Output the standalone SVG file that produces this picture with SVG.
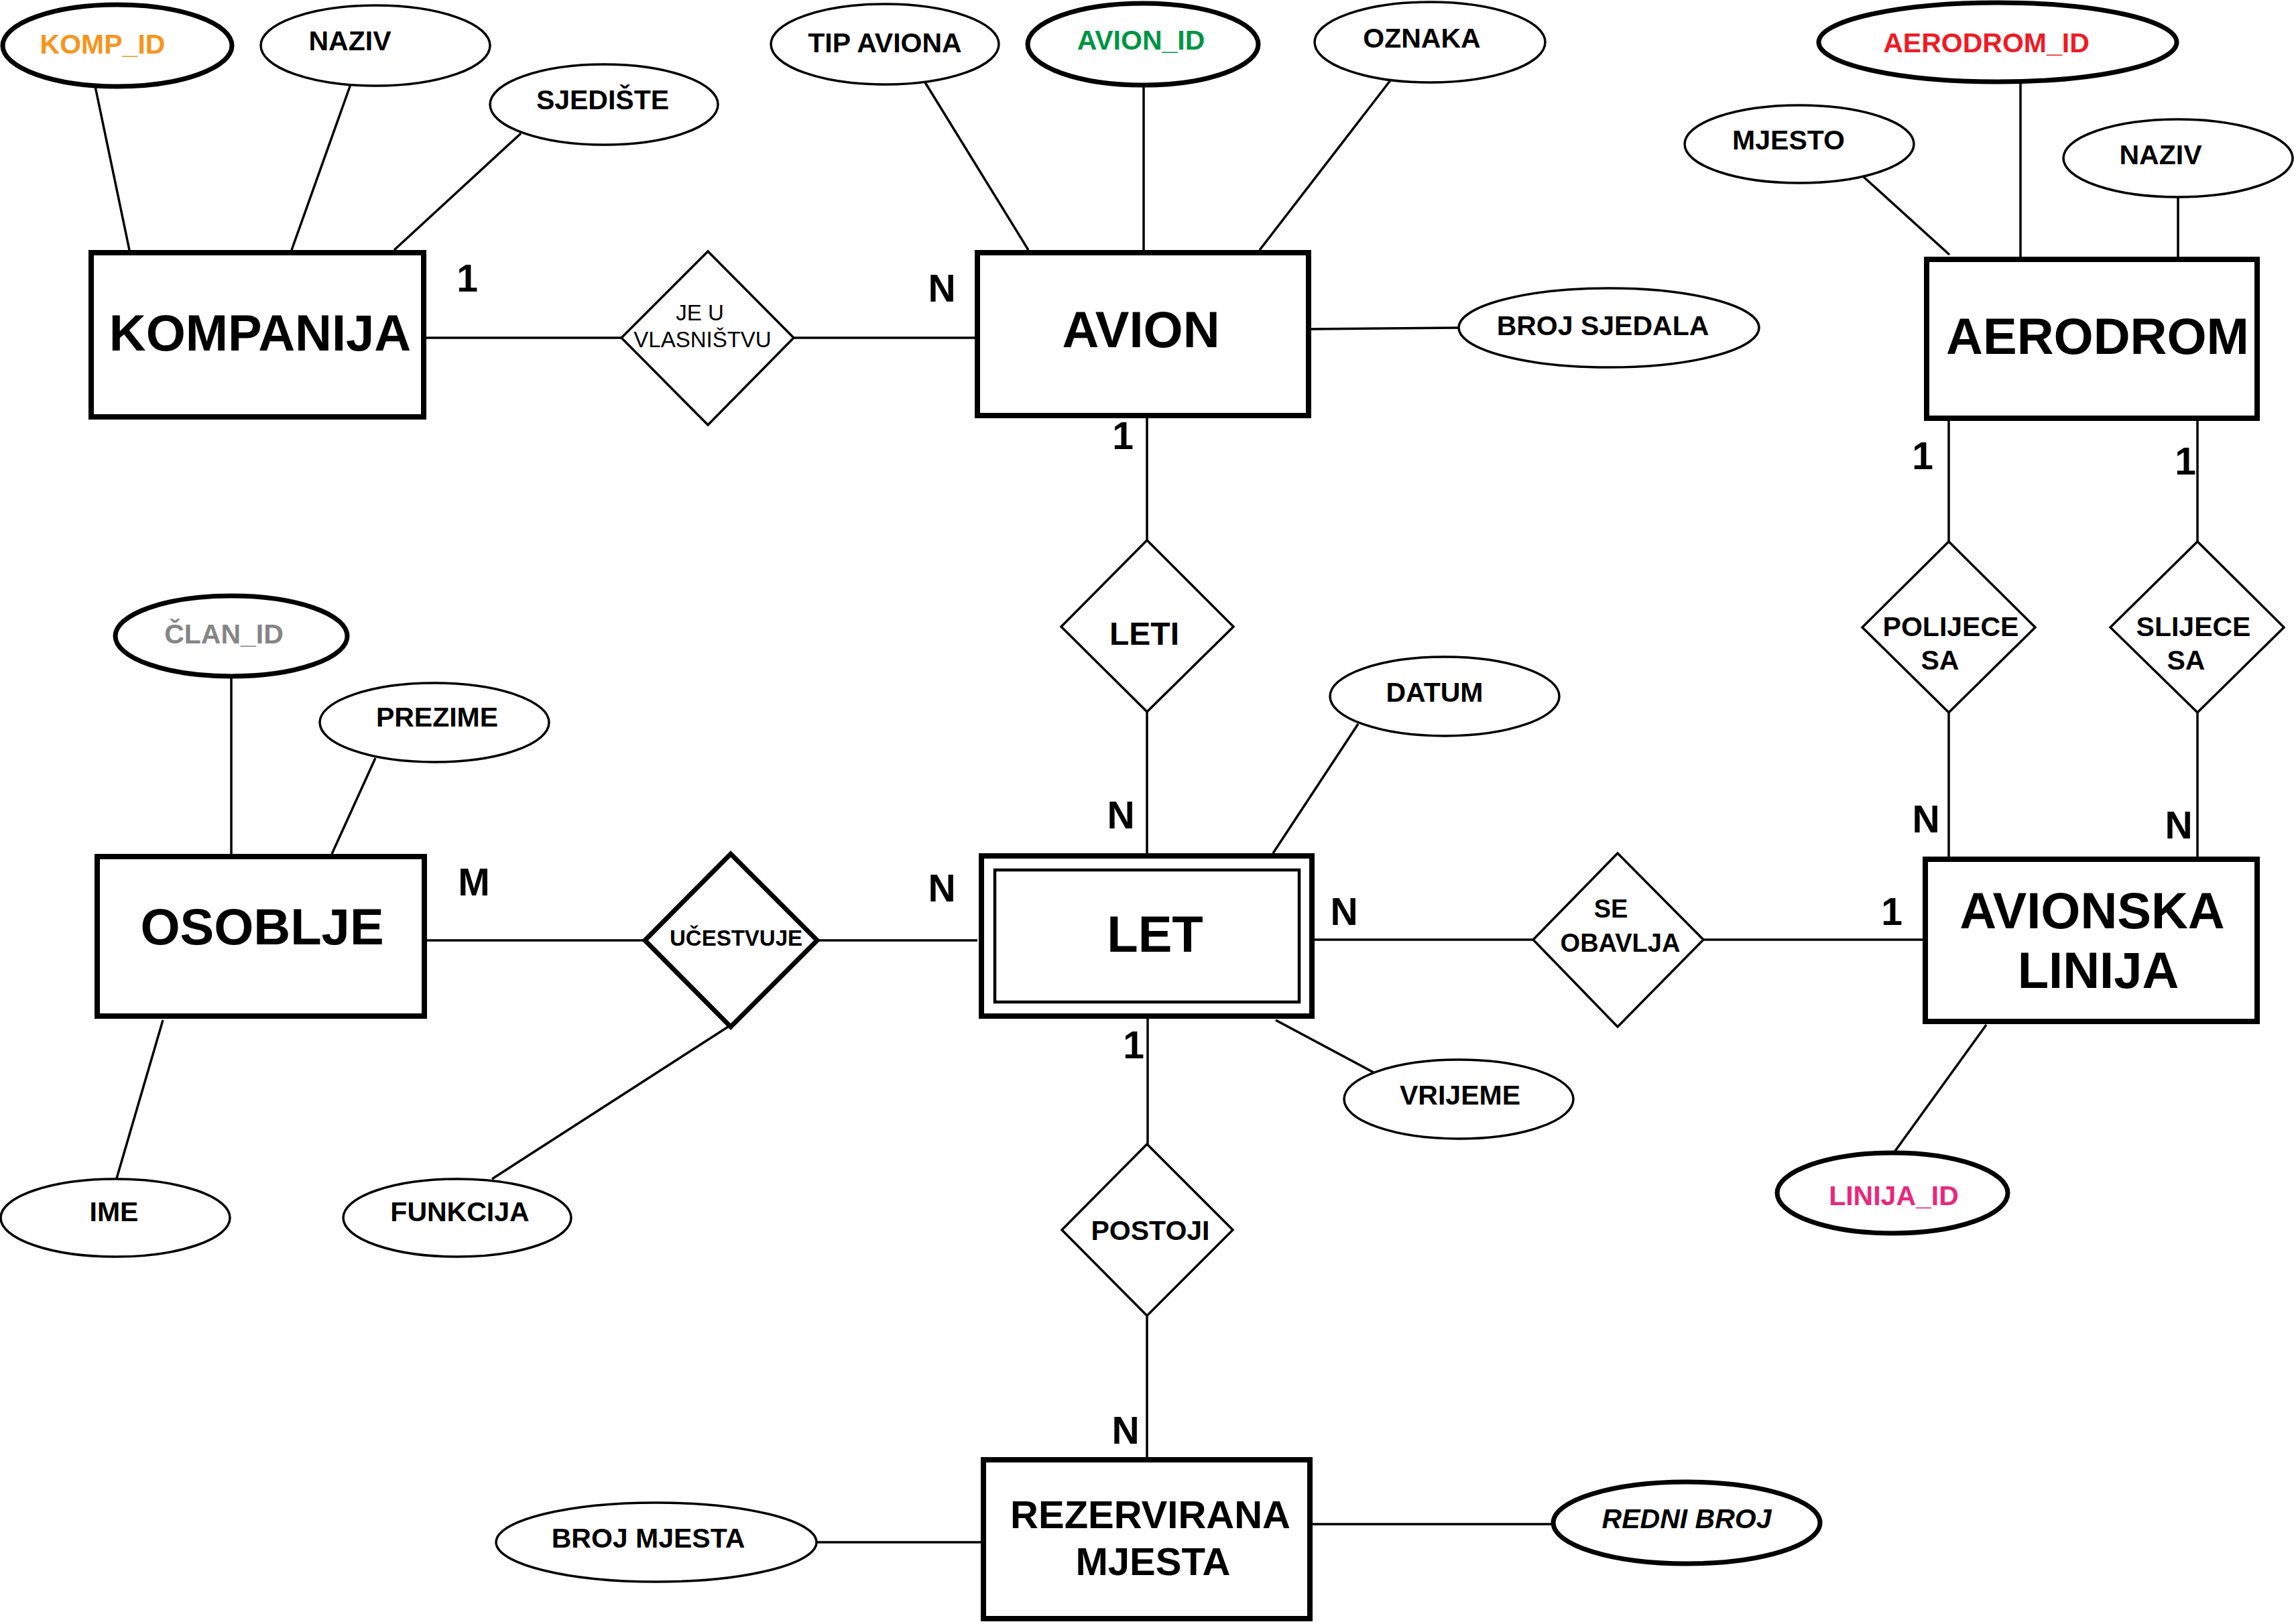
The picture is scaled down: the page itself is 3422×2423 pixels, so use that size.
<svg xmlns="http://www.w3.org/2000/svg" width="3422" height="2423" viewBox="0 0 3422 2423">
<style>
text{font-family:"Liberation Sans",Arial,sans-serif;text-anchor:middle}
.ent{fill:#fff;stroke:#000;stroke-width:8}
.inner{fill:none;stroke:#000;stroke-width:4.5}
.et{font-size:76px;font-weight:bold}
.et2{font-size:58px;font-weight:bold}
.att{fill:#fff;stroke:#000;stroke-width:3.5}
.key{fill:#fff;stroke:#000;stroke-width:7}
.at{font-size:41px;font-weight:bold}
.kt{font-size:41px;font-weight:bold}
.rel{fill:#fff;stroke:#000;stroke-width:3.5}
.relk{fill:#fff;stroke:#000;stroke-width:7}
.rt{font-size:41px;font-weight:bold}
.card{font-size:57px;font-weight:bold}
.con line{stroke:#000;stroke-width:3.5}
</style>
<rect width="3422" height="2423" fill="#fff"/>
<g id="connectors" class="con">
<line x1="142" y1="129" x2="193" y2="373"/>
<line x1="523" y1="126" x2="435" y2="373"/>
<line x1="777" y1="199" x2="588" y2="373"/>
<line x1="632" y1="504" x2="927" y2="504"/>
<line x1="1184" y1="504" x2="1455" y2="504"/>
<line x1="1380" y1="123" x2="1534" y2="373"/>
<line x1="1706" y1="129" x2="1706" y2="373"/>
<line x1="2074" y1="120" x2="1879" y2="373"/>
<line x1="1953" y1="491" x2="2176" y2="489"/>
<line x1="1711" y1="622" x2="1711" y2="806"/>
<line x1="1711" y1="1062" x2="1711" y2="1273"/>
<line x1="2026" y1="1080" x2="1899" y2="1273"/>
<line x1="1903" y1="1522" x2="2049" y2="1600"/>
<line x1="1961" y1="1402" x2="2287" y2="1402"/>
<line x1="2541" y1="1402" x2="2868" y2="1402"/>
<line x1="1219" y1="1403" x2="1458" y2="1403"/>
<line x1="637" y1="1403" x2="962" y2="1403"/>
<line x1="345" y1="1009" x2="345" y2="1274"/>
<line x1="560" y1="1131" x2="495" y2="1274"/>
<line x1="243" y1="1522" x2="174" y2="1758"/>
<line x1="1086" y1="1532" x2="734" y2="1759"/>
<line x1="2780" y1="264" x2="2908" y2="380"/>
<line x1="3014" y1="122" x2="3014" y2="383"/>
<line x1="3249" y1="295" x2="3249" y2="383"/>
<line x1="2907" y1="624" x2="2907" y2="808"/>
<line x1="2907" y1="1063" x2="2907" y2="1278"/>
<line x1="3278" y1="624" x2="3278" y2="808"/>
<line x1="3278" y1="1063" x2="3278" y2="1278"/>
<line x1="2963" y1="1529" x2="2825" y2="1720"/>
<line x1="1712" y1="1520" x2="1712" y2="1707"/>
<line x1="1711" y1="1963" x2="1711" y2="2174"/>
<line x1="1218" y1="2301" x2="1463" y2="2301"/>
<line x1="1958" y1="2274" x2="2317" y2="2274"/>
</g>
<g id="KOMPANIJA"><rect class="ent" x="136" y="377" width="496" height="245"/><text class="et" x="388" y="523">KOMPANIJA</text></g>
<g id="AVION"><rect class="ent" x="1458" y="377" width="494" height="243"/><text class="et" x="1702" y="518">AVION</text></g>
<g id="AERODROM"><rect class="ent" x="2874" y="387" width="493" height="237"/><text class="et" x="3129" y="528">AERODROM</text></g>
<g id="OSOBLJE"><rect class="ent" x="145" y="1278" width="488" height="238"/><text class="et" x="391" y="1409">OSOBLJE</text></g>
<g id="LET"><rect class="ent" x="1464" y="1277" width="493" height="239"/><rect class="inner" x="1484" y="1298" width="454" height="197"/><text class="et" x="1723" y="1420">LET</text></g>
<g id="AVIONSKA_LINIJA"><rect class="ent" x="2872" y="1282" width="495" height="242"/><text class="et" x="3121" y="1385">AVIONSKA</text><text class="et" x="3130" y="1474">LINIJA</text></g>
<g id="REZERVIRANA_MJESTA"><rect class="ent" x="1467" y="2178" width="487" height="237"/><text class="et2" x="1716" y="2280">REZERVIRANA</text><text class="et2" x="1720" y="2350">MJESTA</text></g>
<g id="KOMP_ID"><ellipse class="key" cx="175" cy="68" rx="171" ry="61"/><text class="kt" x="153" y="80" fill="#F7941D">KOMP_ID</text></g>
<g id="NAZIV_K"><ellipse class="att" cx="560" cy="68" rx="171" ry="60"/><text class="at" x="522" y="75">NAZIV</text></g>
<g id="SJEDISTE"><ellipse class="att" cx="901" cy="156" rx="170" ry="60"/><text class="at" x="899" y="163">SJEDIŠTE</text></g>
<g id="TIP_AVIONA"><ellipse class="att" cx="1320" cy="66" rx="170" ry="60"/><text class="at" x="1320" y="78">TIP AVIONA</text></g>
<g id="AVION_ID"><ellipse class="key" cx="1705" cy="66" rx="172" ry="61"/><text class="kt" x="1702" y="74" fill="#009444">AVION_ID</text></g>
<g id="OZNAKA"><ellipse class="att" cx="2133" cy="63" rx="172" ry="60"/><text class="at" x="2121" y="71">OZNAKA</text></g>
<g id="BROJ_SJEDALA"><ellipse class="att" cx="2400" cy="489" rx="224" ry="59"/><text class="at" x="2391" y="500">BROJ SJEDALA</text></g>
<g id="AERODROM_ID"><ellipse class="key" cx="2980" cy="63" rx="267" ry="59"/><text class="kt" x="2963" y="78" fill="#ED1C24">AERODROM_ID</text></g>
<g id="MJESTO"><ellipse class="att" cx="2684" cy="215" rx="171" ry="58"/><text class="at" x="2668" y="223">MJESTO</text></g>
<g id="NAZIV_A"><ellipse class="att" cx="3249" cy="236" rx="171" ry="58"/><text class="at" x="3223" y="245">NAZIV</text></g>
<g id="CLAN_ID"><ellipse class="key" cx="345" cy="949" rx="173" ry="60"/><text class="kt" x="334" y="960" fill="#858585">ČLAN_ID</text></g>
<g id="PREZIME"><ellipse class="att" cx="648" cy="1078" rx="171" ry="59"/><text class="at" x="652" y="1084">PREZIME</text></g>
<g id="IME"><ellipse class="att" cx="172" cy="1817" rx="171" ry="58"/><text class="at" x="170" y="1822">IME</text></g>
<g id="FUNKCIJA"><ellipse class="att" cx="682" cy="1817" rx="170" ry="58"/><text class="at" x="686" y="1822">FUNKCIJA</text></g>
<g id="DATUM"><ellipse class="att" cx="2155" cy="1039" rx="171" ry="59"/><text class="at" x="2140" y="1047">DATUM</text></g>
<g id="VRIJEME"><ellipse class="att" cx="2176" cy="1640" rx="171" ry="59"/><text class="at" x="2178" y="1648">VRIJEME</text></g>
<g id="LINIJA_ID"><ellipse class="key" cx="2823" cy="1780" rx="172" ry="60"/><text class="kt" x="2825" y="1798" fill="#E8287C">LINIJA_ID</text></g>
<g id="BROJ_MJESTA"><ellipse class="att" cx="979" cy="2301" rx="239" ry="59"/><text class="at" x="967" y="2309">BROJ MJESTA</text></g>
<g id="REDNI_BROJ"><ellipse class="key" cx="2516" cy="2272" rx="199" ry="61"/><text class="at" x="2516" y="2280" font-style="italic">REDNI BROJ</text></g>
<g id="JE_U_VLASNISTVU"><polygon class="rel" points="1056,375 1184,504 1056,634 927,504"/><text x="1044" y="478" font-size="33">JE U</text><text x="1048" y="518" font-size="33">VLASNIŠTVU</text></g>
<g id="LETI"><polygon class="rel" points="1711,806 1840,935 1711,1062 1583,935"/><text x="1707" y="962" font-size="48" font-weight="bold">LETI</text></g>
<g id="UCESTVUJE"><polygon class="relk" points="1090,1274 1219,1403 1090,1532 962,1403"/><text x="1098" y="1411" font-size="33" font-weight="bold">UČESTVUJE</text></g>
<g id="SE_OBAVLJA"><polygon class="rel" points="2413,1273 2541,1402 2413,1532 2287,1402"/><text x="2403" y="1369" font-size="38" font-weight="bold">SE</text><text x="2417" y="1420" font-size="38" font-weight="bold">OBAVLJA</text></g>
<g id="POLIJECE_SA"><polygon class="rel" points="2907,808 3036,936 2907,1063 2778,936"/><text class="rt" x="2910" y="949">POLIJECE</text><text class="rt" x="2894" y="999">SA</text></g>
<g id="SLIJECE_SA"><polygon class="rel" points="3278,808 3407,936 3278,1063 3148,936"/><text class="rt" x="3272" y="949">SLIJECE</text><text class="rt" x="3261" y="999">SA</text></g>
<g id="POSTOJI"><polygon class="rel" points="1711,1707 1839,1835 1711,1963 1584,1835"/><text class="rt" x="1716" y="1850">POSTOJI</text></g>
<g id="cardinalities">
<text class="card" x="697" y="435">1</text>
<text class="card" x="1405" y="450">N</text>
<text class="card" x="1675" y="670">1</text>
<text class="card" x="1672" y="1236">N</text>
<text class="card" x="1405" y="1345">N</text>
<text class="card" x="2005" y="1380">N</text>
<text class="card" x="1691" y="1579">1</text>
<text class="card" x="1679" y="2154">N</text>
<text class="card" x="707" y="1336">M</text>
<text class="card" x="2868" y="700">1</text>
<text class="card" x="3260" y="708">1</text>
<text class="card" x="2873" y="1242">N</text>
<text class="card" x="3250" y="1251">N</text>
<text class="card" x="2822" y="1380">1</text>
</g>
</svg>
